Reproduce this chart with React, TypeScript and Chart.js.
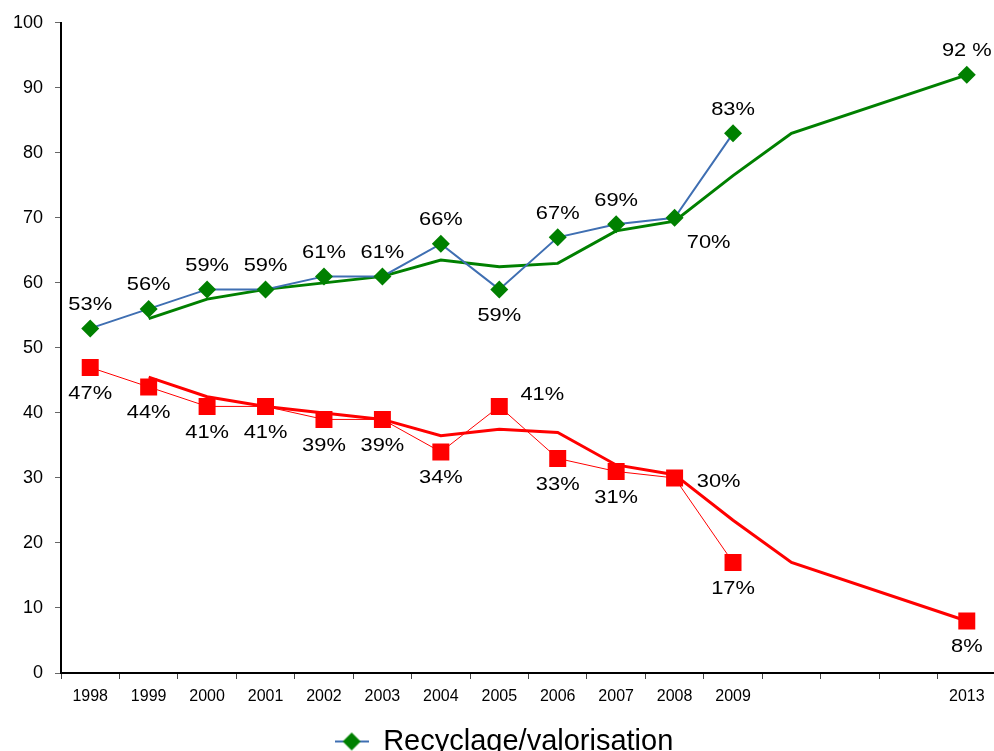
import React, { useEffect, useRef } from "react";
import { Chart, registerables } from "chart.js";

Chart.register(...registerables);

const years = ["1998", "1999", "2000", "2001", "2002", "2003", "2004", "2005", "2006", "2007", "2008", "2009", "", "", "", "2013"];

const recycling = [53, 56, 59, 59, 61, 61, 66, 59, 67, 69, 70, 83, null, null, null, 92];
const landfill = [47, 44, 41, 41, 39, 39, 34, 41, 33, 31, 30, 17, null, null, null, 8];
const recyclingTrend = [null, 54.5, 57.5, 59, 60, 61, 63.5, 62.5, 63, 68, 69.5, 76.5, 83, null, null, 92];
const landfillTrend = [null, 45.5, 42.5, 41, 40, 39, 36.5, 37.5, 37, 32, 30.5, 23.5, 17, null, null, 8];

const recyclingLabels = ["53%", "56%", "59%", "59%", "61%", "61%", "66%", "59%", "67%", "69%", "70%", "83%", "", "", "", "92 %"];
const landfillLabels = ["47%", "44%", "41%", "41%", "39%", "39%", "34%", "41%", "33%", "31%", "30%", "17%", "", "", "", "8%"];

const recyclingLabelPos = ["a", "a", "a", "a", "a", "a", "a", "b", "a", "a", "rb", "a", "", "", "", "a"];
const landfillLabelPos = ["b", "b", "b", "b", "b", "b", "b", "ra", "b", "b", "r", "b", "", "", "", "b"];

const OFFSETS: Record<string, [number, number]> = {
  a: [0, -24],
  b: [0, 26],
  rb: [34, 25],
  ra: [43, -12],
  r: [44, 4],
};

const FONT = '"Liberation Sans", Arial, sans-serif';
const BLUE = "#3F6FB2";
const GREEN = "#008000";
const RED = "#FF0000";

const labelPlugin = {
  id: "valueLabels",
  afterDatasetsDraw(chart: any) {
    const ctx = chart.ctx;
    const sets: [number, string[], string[]][] = [
      [0, recyclingLabels, recyclingLabelPos],
      [1, landfillLabels, landfillLabelPos],
    ];
    sets.forEach(([di, texts, pos]) => {
      const meta = chart.getDatasetMeta(di);
      meta.data.forEach((pt: any, i: number) => {
        const t = texts[i];
        if (!t || !pos[i]) return;
        const [dx, dy] = OFFSETS[pos[i]];
        ctx.save();
        ctx.font = `19px ${FONT}`;
        ctx.fillStyle = "#000";
        ctx.textAlign = "center";
        ctx.textBaseline = "middle";
        ctx.translate(pt.x + dx, pt.y + dy);
        ctx.scale(1.15, 1);
        ctx.fillText(t, 0, 0);
        ctx.restore();
      });
    });
  },
};

function makeLegendIcon() {
  const c = document.createElement("canvas");
  c.width = 34;
  c.height = 20;
  const g = c.getContext("2d")!;
  g.strokeStyle = BLUE;
  g.lineWidth = 2;
  g.beginPath();
  g.moveTo(0, 10);
  g.lineTo(34, 10);
  g.stroke();
  g.fillStyle = GREEN;
  g.beginPath();
  g.moveTo(17, 1);
  g.lineTo(26, 10);
  g.lineTo(17, 19);
  g.lineTo(8, 10);
  g.closePath();
  g.fill();
  return c;
}

export default function App() {
  const ref = useRef<HTMLCanvasElement | null>(null);

  useEffect(() => {
    document.body.style.margin = "0";
    const icon = makeLegendIcon();
    const chart = new Chart(ref.current!, {
      type: "line",
      data: {
        labels: years,
        datasets: [
          {
            label: "Recyclage/valorisation",
            data: recycling,
            borderColor: BLUE,
            borderWidth: 2,
            pointStyle: "rectRot",
            pointRadius: 9,
            pointBackgroundColor: GREEN,
            pointBorderColor: GREEN,
            pointBorderWidth: 0,
            spanGaps: false,
            tension: 0,
          },
          {
            label: "Enfouissement",
            data: landfill,
            borderColor: RED,
            borderWidth: 1,
            pointStyle: "rect",
            pointRadius: 12,
            pointBackgroundColor: RED,
            pointBorderColor: RED,
            pointBorderWidth: 0,
            spanGaps: false,
            tension: 0,
          },
          {
            label: "Tendance recyclage",
            data: recyclingTrend,
            borderColor: GREEN,
            borderWidth: 3,
            pointRadius: 0,
            spanGaps: true,
            tension: 0,
          },
          {
            label: "Tendance enfouissement",
            data: landfillTrend,
            borderColor: RED,
            borderWidth: 3,
            pointRadius: 0,
            spanGaps: true,
            tension: 0,
          },
        ],
      },
      options: {
        animation: false,
        responsive: false,
        devicePixelRatio: 1,
        layout: { padding: { top: 14, left: 0, right: 0, bottom: 0 } },
        scales: {
          x: {
            type: "category",
            offset: true,
            grid: { offset: true, drawOnChartArea: false, drawTicks: true, tickLength: 6, color: "#444" },
            border: { display: true, color: "#000", width: 2 },
            ticks: { color: "#000", font: { family: FONT, size: 16 }, padding: 8, maxRotation: 0, autoSkip: false },
            afterFit(scale: any) {
              scale.height = 44;
            },
          },
          y: {
            min: 0,
            max: 100,
            ticks: { stepSize: 10, color: "#000", font: { family: FONT, size: 18 }, padding: 12 },
            grid: { drawOnChartArea: false, drawTicks: true, tickLength: 6, color: "#666" },
            border: { display: true, color: "#000", width: 2 },
            afterFit(scale: any) {
              scale.width = 61;
            },
          },
        },
        plugins: {
          tooltip: { enabled: false },
          legend: {
            display: true,
            position: "bottom",
            labels: {
              color: "#000",
              font: { family: FONT, size: 29 },
              usePointStyle: true,
              pointStyleWidth: 34,
              padding: 10,
              generateLabels(ch: any) {
                const items = Chart.defaults.plugins.legend.labels.generateLabels(ch);
                return items
                  .filter((it: any) => it.datasetIndex === 0)
                  .map((it: any) => ({ ...it, pointStyle: icon, lineWidth: 0 }));
              },
            },
          },
        },
      },
      plugins: [labelPlugin],
    });
    return () => chart.destroy();
  }, []);

  return (
    <div style={{ width: 994, height: 751, overflow: "hidden", position: "relative", background: "#fff" }}>
      <canvas ref={ref} width={1008} height={766} style={{ display: "block", width: 1008, height: 766 }} />
    </div>
  );
}
